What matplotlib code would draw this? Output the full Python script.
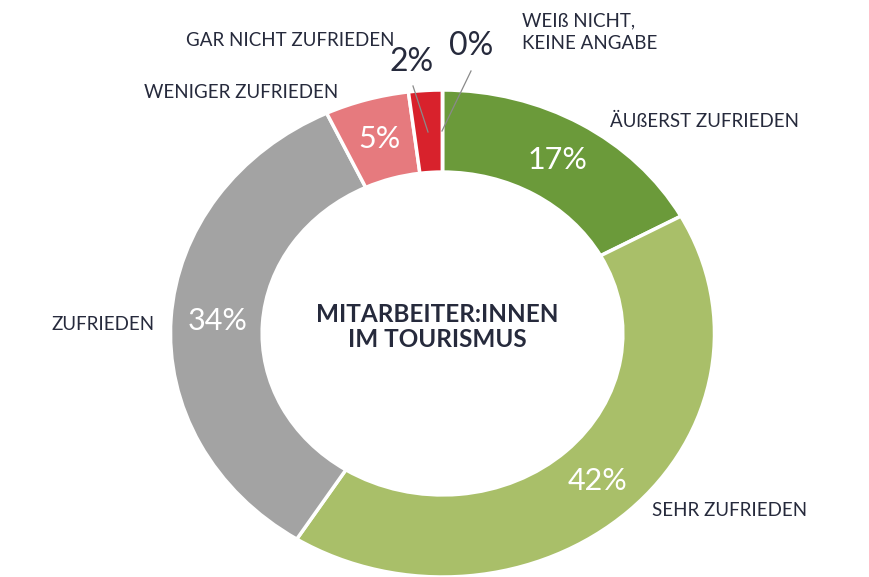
import matplotlib.pyplot as plt

plt.rcParams['font.family'] = ['Lato', 'DejaVu Sans']

categories = ['ÄUßERST ZUFRIEDEN', 'SEHR ZUFRIEDEN', 'ZUFRIEDEN',
              'WENIGER ZUFRIEDEN', 'GAR NICHT ZUFRIEDEN', 'WEIß NICHT,\nKEINE ANGABE']
values = [17, 42, 34, 5, 2, 0]
colors = ['#6b9a3a', '#a9bf69', '#a3a3a3', '#e67a7e', '#d8222c', '#c9c9c9']
center_title = 'MITARBEITER:INNEN\nIM TOURISMUS'

W, H = 869, 577
dark = '#262a3c'


def px(x, y):
    return x / W, 1 - y / H


fig = plt.figure(figsize=(W / 100, H / 100), dpi=100)
ax = fig.add_axes([0, 0, 1, 1])


def pct(p):
    return f'{p:.0f}%' if p >= 3 else ''


wedges, _, autotexts = ax.pie(values, colors=colors, startangle=90, counterclock=False,
                              radius=1, autopct=pct, pctdistance=0.83,
                              wedgeprops=dict(width=0.337, edgecolor='white', linewidth=2.5),
                              textprops=dict(color='white', fontsize=22))
ax.set_aspect('auto')
cx, cy, rx, ry = 442.5, 333.5, 272, 243.5
ax.set_xlim(-cx / rx, (W - cx) / rx)
ax.set_ylim((cy - H) / ry, cy / ry)
ax.axis('off')

# small slices labelled outside
fig.text(*px(412, 62), f'{values[4]}%', fontsize=23, color=dark, ha='center', va='center')
fig.text(*px(471, 46), f'{values[5]}%', fontsize=23, color=dark, ha='center', va='center')
fig.add_artist(plt.Line2D([413 / W, 428 / W], [1 - 86 / H, 1 - 132 / H], color='#8a8a8a', lw=0.9))
fig.add_artist(plt.Line2D([471 / W, 442 / W], [1 - 71 / H, 1 - 131 / H], color='#8a8a8a', lw=0.9))

lab = dict(fontsize=13.5, color=dark, va='center')
fig.text(*px(610, 121), categories[0], ha='left', **lab)
fig.text(*px(652, 511), categories[1], ha='left', **lab)
fig.text(*px(155, 325), categories[2], ha='right', **lab)
fig.text(*px(338, 93), categories[3], ha='right', **lab)
fig.text(*px(395, 40), categories[4], ha='right', **lab)
fig.text(*px(522, 32), categories[5], ha='left', linespacing=1.4, **lab)

fig.text(*px(437, 327), center_title, fontsize=17.5, fontweight='bold', color=dark,
         ha='center', va='center', linespacing=1.15)

fig.savefig('out.png', dpi=100, facecolor='white')
